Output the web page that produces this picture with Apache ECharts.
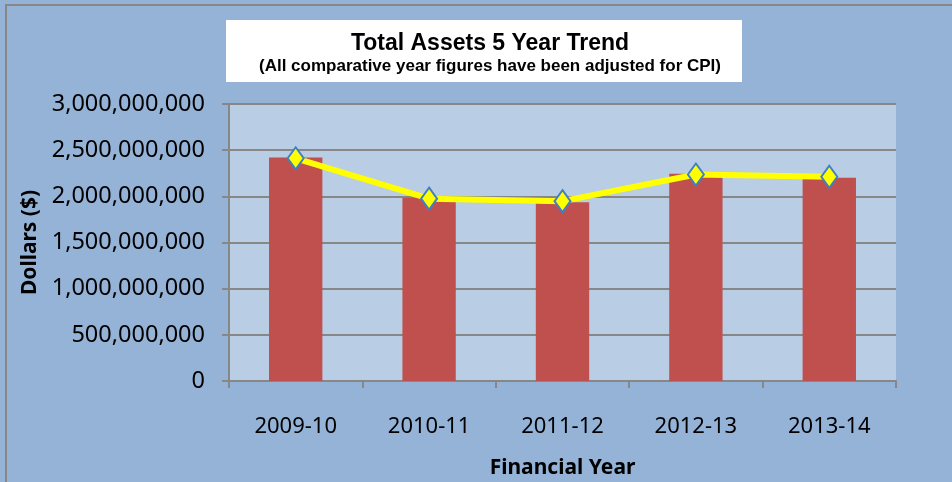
<!DOCTYPE html>
<html>
<head>
<meta charset="utf-8">
<script src="https://cdn.jsdelivr.net/npm/echarts@6/dist/echarts.min.js"></script>
<style>
  html, body { margin: 0; padding: 0; background: #95b3d7; }
  #main { width: 952px; height: 482px; }
</style>
</head>
<body>
<div id="main"></div>
<script>
// data
const years = ['2009-10', '2010-11', '2011-12', '2012-13', '2013-14'];
const barValues = [2420000000, 1985000000, 1937000000, 2245000000, 2200000000];
const lineValues = [2412000000, 1975000000, 1948000000, 2236000000, 2212000000];

const chart = echarts.init(document.getElementById('main'), null, { renderer: 'canvas' });

function fmt(v) {
  return String(v).replace(/\B(?=(\d{3})+(?!\d))/g, ',');
}

const option = {
  backgroundColor: '#95b3d7',
  animation: false,
  graphic: [
    // chart frame
    { type: 'rect', shape: { x: 6, y: 5, width: 980, height: 520 },
      style: { fill: 'none', stroke: '#878787', lineWidth: 2 }, z: 0 },
    // white title box
    { type: 'rect', shape: { x: 226, y: 20, width: 516, height: 62 },
      style: { fill: '#ffffff' }, z: 1 }
  ],
  title: {
    text: 'Total Assets 5 Year Trend',
    subtext: '(All comparative year figures have been adjusted for CPI)',
    left: 485,
    top: 27,
    textAlign: 'center',
    itemGap: 3,
    textStyle: { fontFamily: 'Liberation Sans', fontWeight: 'bold', fontSize: 23, color: '#000' },
    subtextStyle: { fontFamily: 'Liberation Sans', fontWeight: 'bold', fontSize: 17, color: '#000' }
  },
  grid: {
    left: 229,
    right: 56,
    top: 104,
    bottom: 101,
    containLabel: false,
    outerBoundsMode: 'none',
    show: true,
    backgroundColor: '#b9cde5',
    borderWidth: 0
  },
  xAxis: {
    type: 'category',
    data: years,
    name: 'Financial Year',
    nameLocation: 'middle',
    nameGap: 77,
    nameTextStyle: { fontFamily: 'Noto Sans', fontWeight: 'bold', fontSize: 21, color: '#000' },
    axisLine: { lineStyle: { color: '#878787', width: 2 } },
    axisTick: { show: true, length: 7, lineStyle: { color: '#878787', width: 2 } },
    axisLabel: { margin: 35, fontFamily: 'Noto Sans', fontSize: 22, color: '#000' }
  },
  yAxis: {
    type: 'value',
    min: 0,
    max: 3000000000,
    interval: 500000000,
    name: 'Dollars ($)',
    nameLocation: 'middle',
    nameGap: 187,
    nameRotate: 90,
    nameTextStyle: { fontFamily: 'Noto Sans', fontWeight: 'bold', fontSize: 21, color: '#000' },
    axisLine: { show: true, lineStyle: { color: '#878787', width: 2 } },
    axisTick: { show: true, length: 7, lineStyle: { color: '#878787', width: 2 } },
    axisLabel: { margin: 24, fontFamily: 'Noto Sans', fontSize: 23.5, color: '#000', formatter: fmt },
    splitLine: { lineStyle: { color: '#878787', width: 2 } }
  },
  series: [
    {
      type: 'bar',
      data: barValues,
      barWidth: '40%',
      itemStyle: { color: '#c0504d' },
      z: 2
    },
    {
      type: 'line',
      data: lineValues,
      symbol: 'diamond',
      symbolSize: [16, 22],
      lineStyle: { color: '#ffff00', width: 6 },
      itemStyle: { color: '#ffff00', borderColor: '#3f7fc8', borderWidth: 2 },
      z: 3
    }
  ]
};

chart.setOption(option);
</script>
</body>
</html>
